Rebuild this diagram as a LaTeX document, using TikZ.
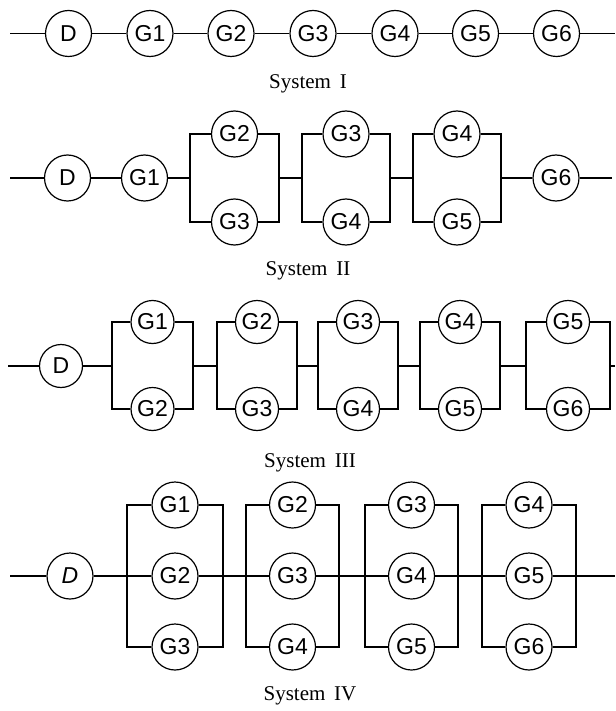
\documentclass[tikz,border=0pt]{standalone}
\usepackage{fontspec}
\setmainfont{Liberation Serif}
\newfontfamily\gsans{Liberation Sans}
% two-row parallel block: #1 name, #2 xL, #3 xR, #4 y main, #5 y top, #6 y bottom, #7 top label, #8 bottom label, #9 style
\newcommand\twoblock[9]{%
  \coordinate (#1L) at (#2,#4);
  \coordinate (#1R) at (#3,#4);
  \node[#9] (#1t) at ({(#2+#3)/2},#5) {#7};
  \node[#9] (#1b) at ({(#2+#3)/2},#6) {#8};
  \draw (#1L) |- (#1t) -| (#1R) |- (#1b) -| (#1L);
}
% three-row parallel block: #1 name, #2 xL, #3 xR, #4 y main, #5 y top, #6 y bottom, #7 top, #8 middle, #9 bottom label
\newcommand\threeblock[9]{%
  \coordinate (#1L) at (#2,#4);
  \coordinate (#1R) at (#3,#4);
  \node[gen] (#1t) at ({(#2+#3)/2},#5) {#7};
  \node[gen] (#1m) at ({(#2+#3)/2},#4) {#8};
  \node[gen] (#1b) at ({(#2+#3)/2},#6) {#9};
  \draw (#1L) |- (#1t) -| (#1R) |- (#1b) -| (#1L);
  \draw (#1L) -- (#1m) -- (#1R);
}
\begin{document}
\begin{tikzpicture}[x=1pt,y=-1pt,line width=1.2pt,
  gen/.style={circle,draw,minimum size=46pt,inner sep=0pt,font=\gsans\fontsize{23}{23}\selectfont},
  gsm/.style={gen,minimum size=43pt},
  caption/.style={font=\fontsize{21}{24}\selectfont,inner sep=0pt}]
\useasboundingbox (0,0) rectangle (615,711);

% ---------- System I ----------
\coordinate (s1start) at (10,33.5);
\coordinate (s1end) at (615,33.5);
\node[gen] (s1d) at (68.5,33.5) {D};
\node[gen] (s1g1) at (150,33.5) {G1};
\node[gen] (s1g2) at (231,33.5) {G2};
\node[gen] (s1g3) at (313,33.5) {G3};
\node[gen] (s1g4) at (395,33.5) {G4};
\node[gen] (s1g5) at (475.5,33.5) {G5};
\node[gen] (s1g6) at (556.5,33.5) {G6};
\draw (s1start) -- (s1d) -- (s1g1) -- (s1g2) -- (s1g3) -- (s1g4) -- (s1g5) -- (s1g6) -- (s1end);
\node[caption] (cap1) at (308,84) {System\hspace{0.42em}I};

% ---------- System II ----------
\coordinate (s2start) at (10,178);
\coordinate (s2end) at (612,178);
\node[gen] (s2d) at (67.5,178) {D};
\node[gen] (s2g1) at (144.5,178) {G1};
\twoblock{s2a}{190}{279}{178}{134}{222}{G2}{G3}{gen}
\twoblock{s2b}{302}{390}{178}{134}{222}{G3}{G4}{gen}
\twoblock{s2c}{413}{501}{178}{134}{222}{G4}{G5}{gen}
\node[gen] (s2g6) at (556,178) {G6};
\draw (s2start) -- (s2d) -- (s2g1) -- (s2aL);
\draw (s2aR) -- (s2bL);
\draw (s2bR) -- (s2cL);
\draw (s2cR) -- (s2g6) -- (s2end);
\node[caption] (cap2) at (308,271) {System\hspace{0.42em}II};

% ---------- System III ----------
\coordinate (s3start) at (8,366);
\coordinate (s3end) at (615,366);
\node[gsm] (s3d) at (61,366) {D};
\twoblock{s3a}{112}{193}{366}{322}{409}{G1}{G2}{gsm}
\twoblock{s3b}{217}{297}{366}{322}{409}{G2}{G3}{gsm}
\twoblock{s3c}{318}{398}{366}{322}{409}{G3}{G4}{gsm}
\twoblock{s3e}{420}{500}{366}{322}{409}{G4}{G5}{gsm}
\twoblock{s3f}{526}{610}{366}{322}{409}{G5}{G6}{gsm}
\draw (s3start) -- (s3d) -- (s3aL);
\draw (s3aR) -- (s3bL);
\draw (s3bR) -- (s3cL);
\draw (s3cR) -- (s3eL);
\draw (s3eR) -- (s3fL);
\draw (s3fR) -- (s3end);
\node[caption] (cap3) at (310,463) {System\hspace{0.42em}III};

% ---------- System IV ----------
\coordinate (s4start) at (10,576);
\coordinate (s4end) at (615,576);
\node[gen,font=\gsans\itshape\fontsize{23}{23}\selectfont] (s4d) at (70,576) {D};
\threeblock{s4a}{127}{223}{576}{505}{647}{G1}{G2}{G3}
\threeblock{s4b}{246}{339}{576}{505}{647}{G2}{G3}{G4}
\threeblock{s4c}{365}{458}{576}{505}{647}{G3}{G4}{G5}
\threeblock{s4e}{482}{576}{576}{505}{647}{G4}{G5}{G6}
\draw (s4start) -- (s4d) -- (s4aL);
\draw (s4aR) -- (s4bL);
\draw (s4bR) -- (s4cL);
\draw (s4cR) -- (s4eL);
\draw (s4eR) -- (s4end);
\node[caption] (cap4) at (310,696) {System\hspace{0.42em}IV};
\end{tikzpicture}
\end{document}
